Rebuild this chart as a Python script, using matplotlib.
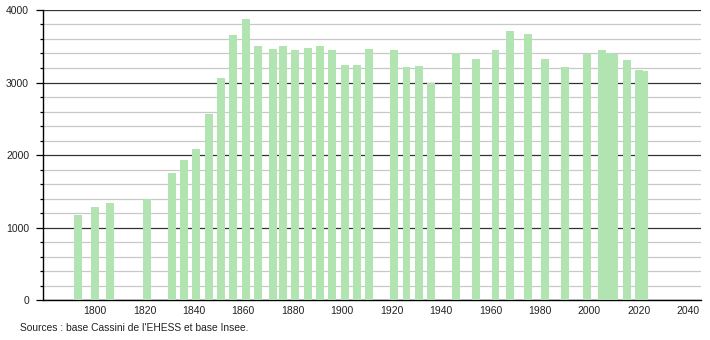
import matplotlib
matplotlib.use('Agg')
import matplotlib.pyplot as plt
from matplotlib.ticker import MultipleLocator

# census years and population
years = [1793, 1800, 1806, 1821, 1831, 1836, 1841, 1846, 1851, 1856,
         1861, 1866, 1872, 1876, 1881, 1886, 1891, 1896, 1901, 1906,
         1911, 1921, 1926, 1931, 1936, 1946, 1954, 1962, 1968, 1975,
         1982, 1990, 1999, 2005, 2008, 2010, 2015, 2020, 2022]
population = [1175, 1283, 1342, 1389, 1756, 1931, 2083, 2566, 3062, 3655,
              3871, 3503, 3462, 3503, 3448, 3476, 3503, 3448, 3241, 3237,
              3462, 3448, 3209, 3228, 2989, 3407, 3324, 3448, 3710, 3669,
              3324, 3209, 3393, 3448, 3400, 3393, 3315, 3172, 3159]
xticks = list(range(1800, 2041, 20))
source = "Sources : base Cassini de l'EHESS et base Insee."

bar_color = '#b2e4b2'
plt.rcParams['font.family'] = ['Liberation Sans Narrow', 'Liberation Sans', 'DejaVu Sans']

fig = plt.figure(figsize=(7.1, 3.4), dpi=100)
ax = fig.add_axes([0.0606, 0.1176, 0.9264, 0.853])

ax.bar(years, population, width=3.2, color=bar_color, linewidth=0, zorder=3)

ax.set_xlim(1779, 2045)
ax.set_ylim(0, 4000)

ax.yaxis.set_major_locator(MultipleLocator(1000))
ax.yaxis.set_minor_locator(MultipleLocator(200))
ax.grid(which='major', axis='y', color='#333333', linewidth=0.9, zorder=1)
ax.grid(which='minor', axis='y', color='#c8c8c8', linewidth=0.9, zorder=1)
ax.set_axisbelow(True)

ax.set_xticks(xticks)
ax.set_xticklabels([str(t) for t in xticks])
ax.tick_params(axis='x', length=0, pad=4, labelsize=7.5, labelcolor='#222222')
ax.tick_params(axis='y', which='major', length=5, width=0.9, direction='out',
               labelsize=7.5, labelcolor='#222222', pad=5)
ax.tick_params(axis='y', which='minor', length=2.5, width=0.9, direction='out')

for side in ['top', 'right']:
    ax.spines[side].set_visible(False)
ax.spines['left'].set_color('black')
ax.spines['bottom'].set_color('black')
ax.spines['left'].set_linewidth(1)
ax.spines['bottom'].set_linewidth(1)

fig.text(0.028, 0.027, source, fontsize=7.4, color='#222222')

fig.savefig('out.png', dpi=100)
